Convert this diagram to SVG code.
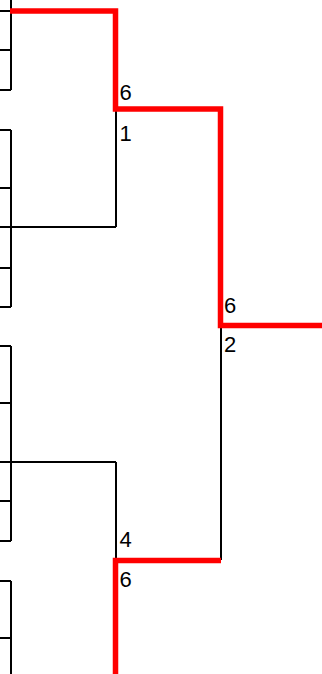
<svg xmlns="http://www.w3.org/2000/svg" width="322" height="674" viewBox="0 0 322 674">
<style>
.ln{fill:none;stroke:#000;stroke-width:2}
.win{fill:none;stroke:#f00;stroke-width:5.5;stroke-linejoin:miter;stroke-linecap:butt}
.sc{font-family:"Liberation Sans",Arial,sans-serif;font-size:22px;fill:#000}
</style>
<rect width="322" height="674" fill="#fff"/>
<g id="connectors">
<path class="ln" d="M11 0V90M0 11H11M0 50H11M0 90H11"/>
<path class="ln" d="M11 130V307M0 130H11M0 188H11M0 227H116M0 268H11M0 307H11"/>
<path class="ln" d="M116 109V227"/>
<path class="ln" d="M11 346V541M0 346H11M0 403H11M0 462H116M0 501H11M0 541H11"/>
<path class="ln" d="M116 462V560"/>
<path class="ln" d="M11 581V674M0 581H11M0 638H11"/>
<path class="ln" d="M221 325V560"/>
<path class="win" d="M10 11H115.5V109H220.5V325.5H322"/>
<path class="win" d="M115.5 674V560.5H221"/>
</g>
<g id="match1"><text class="sc" x="119.5" y="99.5">6</text><text class="sc" x="119.5" y="141">1</text></g>
<g id="match2"><text class="sc" x="224" y="313">6</text><text class="sc" x="224" y="352">2</text></g>
<g id="match3"><text class="sc" x="119.5" y="547">4</text><text class="sc" x="119.5" y="586.5">6</text></g>
</svg>
